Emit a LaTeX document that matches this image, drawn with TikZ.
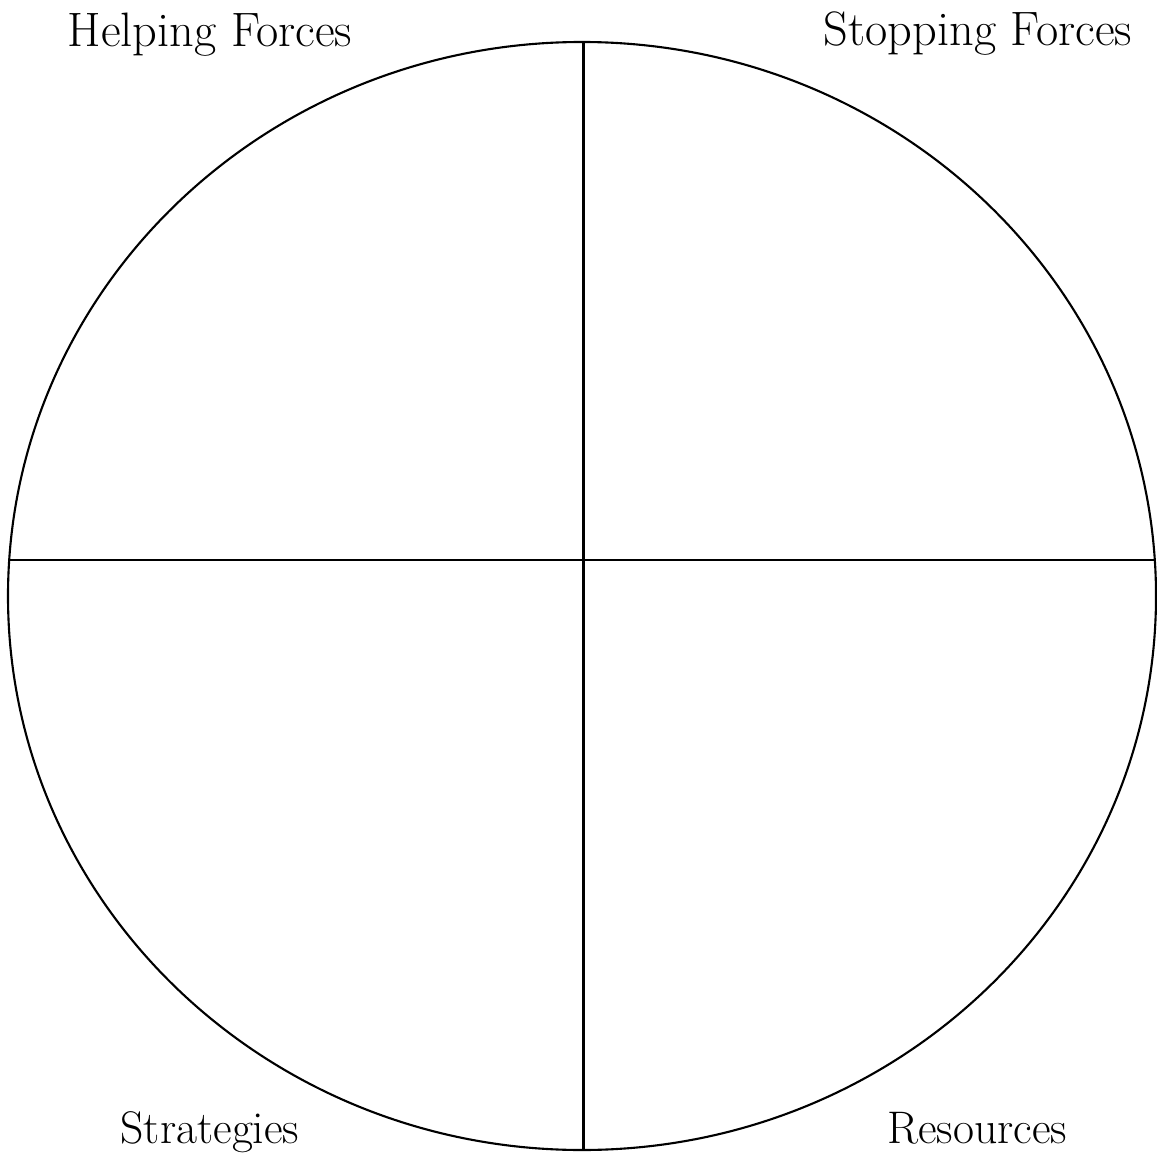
\documentclass[tikz,border=0pt]{standalone}
\begin{document}
\begin{tikzpicture}[
  x=0.02cm, y=-0.02cm,
  rim/.style={line width=1.2pt},
  divider/.style={line width=1.2pt},
  head/.style={font=\fontsize{27.5}{32}\selectfont, anchor=base},
  foot/.style={font=\fontsize{26}{31}\selectfont, anchor=base}]
\useasboundingbox (0,0) rectangle (1156,1165);
% outer circle
\draw[rim] (582,596) ellipse [x radius=574, y radius=554];
% quarter lines
\coordinate (top) at (583.5,42);
\coordinate (bottom) at (583.5,1150);
\coordinate (west) at (9,560);
\coordinate (east) at (1156,560);
\draw[divider] (top) -- (bottom);
\draw[divider] (west) -- (east);
% labels
\node[head] (helping) at (210,47) {Helping Forces};
\node[head] (stopping) at (978,46) {Stopping Forces};
\node[foot] (strategies) at (210,1143) {Strategies};
\node[foot] (resources) at (977,1143) {Resources};
\end{tikzpicture}
\end{document}
